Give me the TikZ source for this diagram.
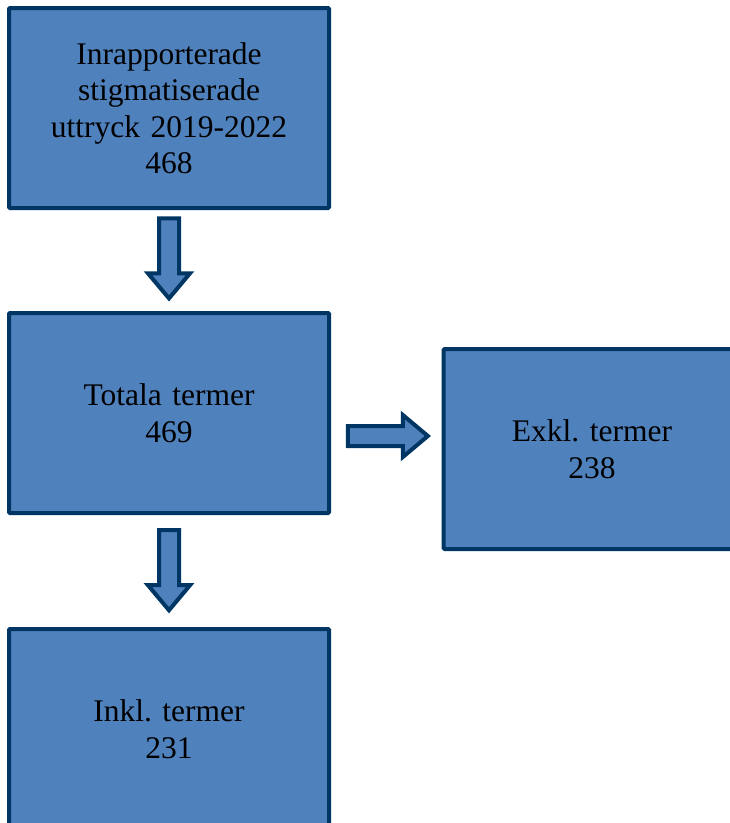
\documentclass[tikz,border=0pt]{standalone}
\usepackage{fontspec}
\setmainfont{Liberation Serif}
\usetikzlibrary{shapes,shapes.arrows,calc}
\definecolor{boxblue}{RGB}{79, 129, 189}
\definecolor{darkblue}{RGB}{0, 54, 99}
\tikzstyle{termbox}=[draw=darkblue,fill=boxblue,line width=4pt,text width=290pt,align=center,minimum width=320pt,minimum height=200pt,font=\fontsize{31.5}{36.5}\selectfont,rounded corners=1pt]
\tikzstyle{blockarrow}=[single arrow,draw=darkblue,fill=boxblue,line width=4pt,inner xsep=0pt,inner ysep=8pt,minimum height=80pt,single arrow head extend=11pt,single arrow tip angle=80]

\begin{document}
\frenchspacing
\begin{tikzpicture}[x=1pt,y=-1pt]
\clip (0,0) rectangle (730,823);
\node[termbox] (B1) at (169,108) {Inrapporterade\\stigmatiserade\\uttryck 2019-2022\\468};
\node[termbox] (B2) at (169,413) {Totala termer\\469};
\node[termbox,minimum width=296pt] (B3) at (592,449) {Exkl. termer\\238};
\node[termbox] (B4) at (169,729) {Inkl. termer\\231};

\node[blockarrow,rotate=-90] (A1) at ($(B1.south)!0.42!(B2.north)$) {};
\node[blockarrow,rotate=-90] (A2) at ($(B2.south)!0.44!(B4.north)$) {};
\node[blockarrow] (A3) at ($(B2.east |- 0,436)!0.46!(B3.west |- 0,436)$) {};
\end{tikzpicture}
\end{document}
